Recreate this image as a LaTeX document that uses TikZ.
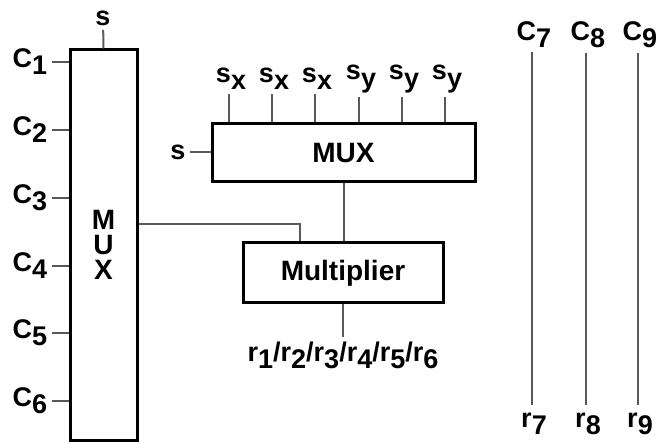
\documentclass[tikz,border=0pt]{standalone}
\usepackage{fontspec}
\setmainfont{Liberation Sans}
\usepackage{tikz}
\usetikzlibrary{positioning}
\usetikzlibrary{calc}

\newcommand{\lo}[1]{\raisebox{-0.5ex}{#1}}

\begin{document}
\begin{tikzpicture}[
x=0.5pt, y=-0.5pt,
box/.style={
  rectangle,
  draw=black,
  line width=1.5pt,
  inner sep=0pt,
  font=\bfseries\fontsize{14}{12.5}\selectfont,
  align=center
},
lbl/.style={
  inner sep=2pt,
  font=\bfseries\fontsize{13.5}{14}\selectfont
},
wire/.style={draw=black!65, line width=1pt}
]
\useasboundingbox (0,0) rectangle (659,443);

% ---- LEFT: tall MUX ----
\node[box, minimum width=33.5pt, minimum height=195pt] (muxL) at (103.5,245) {M\\U\\X};
\node[lbl] (sL) at (103,18) {s};
\draw[wire] (sL) -- (muxL.north);

\node[lbl] (c1) at (30, 62) {C\lo{1}};
\node[lbl] (c2) at (30,130) {C\lo{2}};
\node[lbl] (c3) at (30,198) {C\lo{3}};
\node[lbl] (c4) at (30,266) {C\lo{4}};
\node[lbl] (c5) at (30,333) {C\lo{5}};
\node[lbl] (c6) at (30,401) {C\lo{6}};

\foreach \c in {c1,c2,c3,c4,c5,c6}
  \draw[wire] (\c) -- (\c -| muxL.west);

% ---- MIDDLE: MUX and Multiplier ----
\node[box, minimum width=131.5pt, minimum height=29pt] (mux) at (343.5,153) {MUX};
\node[box, minimum width=100pt, minimum height=30pt] (mult) at (343,273) {Multiplier};

\node[lbl] (sM) at (178,152) {s};
\draw[wire] (sM) -- (sM -| mux.west);

\node[lbl] (sx1) at (231,79) {s\lo{x}};
\node[lbl] (sx2) at (274,79) {s\lo{x}};
\node[lbl] (sx3) at (317,79) {s\lo{x}};
\node[lbl] (sy1) at (361,79) {s\lo{y}};
\node[lbl] (sy2) at (404,79) {s\lo{y}};
\node[lbl] (sy3) at (447,79) {s\lo{y}};

\foreach \s in {sx1,sx2,sx3,sy1,sy2,sy3}
  \draw[wire] ([xshift=-1pt]\s.south) -- ([xshift=-1pt]\s.south |- mux.north);

\draw[wire] (mux.south) -- (mux.south |- mult.north);
\draw[wire] ([yshift=10.5pt]muxL.east) -| ([xshift=-21.5pt]mult.north);

\node[lbl] (rr) at (343,355) {r\lo{1}/r\lo{2}/r\lo{3}/r\lo{4}/r\lo{5}/r\lo{6}};
\draw[wire] (mult) -- (rr);

% ---- RIGHT: pass-through lines ----
\node[lbl] (c7) at (534,35) {C\lo{7}};
\node[lbl] (c8) at (588,35) {C\lo{8}};
\node[lbl] (c9) at (640,35) {C\lo{9}};
\node[lbl] (r7) at (534,424) {r\lo{7}};
\node[lbl] (r8) at (588,424) {r\lo{8}};
\node[lbl] (r9) at (640,424) {r\lo{9}};

\draw[wire, shorten >=2pt] ([xshift=-1pt]c7.south) -- ([xshift=-1pt]r7.north);
\draw[wire, shorten >=2pt] ([xshift=-1pt]c8.south) -- ([xshift=-1pt]r8.north);
\draw[wire, shorten >=2pt] ([xshift=-1pt]c9.south) -- ([xshift=-1pt]r9.north);

\end{tikzpicture}
\end{document}
